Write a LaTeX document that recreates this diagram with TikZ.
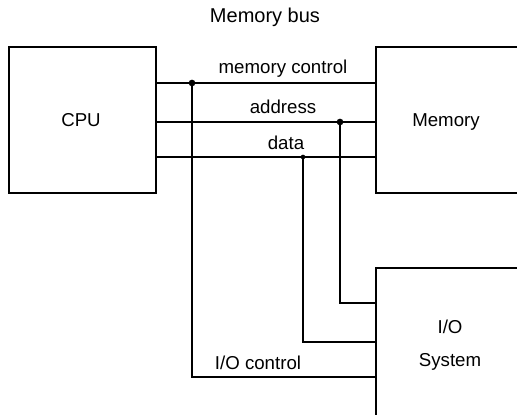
\documentclass[tikz,border=0pt]{standalone}
\usepackage{fontspec}
\setmainfont{Liberation Sans}
\usetikzlibrary{positioning}

\tikzset{
  unitbox/.style={draw, line width=1.1pt, minimum width=144*0.75pt, minimum height=146*0.75pt, inner sep=0pt},
  busline/.style={line width=1.1pt},
  tap/.style={circle, fill, inner sep=0pt, minimum size=5pt},
  lbl/.style={font=\fontsize{14}{16}\selectfont, inner sep=0pt}
}

\begin{document}
\begin{tikzpicture}[x=0.75pt, y=0.75pt]
    \useasboundingbox (0,0) rectangle (517,414);
    \clip (0,0) rectangle (517,414);

    % the three units
    \node[unitbox, minimum width=147*0.75pt] (cpu) at (82.5,294) {};
    \node[unitbox] (mem) at (448,294) {};
    \node[unitbox, minimum height=166*0.75pt] (io) at (448,63) {};

\node[lbl] (cpulbl) at (81,294) {CPU};
\node[lbl] (memlbl) at (446,292) {Memory};
\node[lbl] (iolbl) at (450,87) {I/O};
\node[lbl] (syslbl) at (450,52) {System};
\node[lbl, font=\fontsize{15}{17}\selectfont] (buslbl) at (265,397) {Memory bus};

    % bus lines
    \coordinate (mc) at (192,331);
    \coordinate (ad) at (340,292);
    \coordinate (da) at (303,257);
    \draw[busline] (cpu.east |- mc) -- (mem.west |- mc);
    \draw[busline] (cpu.east |- ad) -- (mem.west |- ad);
    \draw[busline] (cpu.east |- da) -- (mem.west |- da);

\node[lbl] (mclbl) at (283,345) {memory control};
\node[lbl] (adlbl) at (283,307) {address};
\node[lbl] (dalbl) at (286,271) {data};

    % taps down to the I/O system
    \coordinate (ioc) at (192,37);
    \coordinate (ioa) at (340,111);
    \coordinate (iod) at (303,72);
    \draw[busline] (mc) -- (ioc) -- (io.west |- ioc);
    \draw[busline] (ad) -- (ioa) -- (io.west |- ioa);
    \draw[busline] (da) -- (iod) -- (io.west |- iod);
    \node[tap] at (mc) {};
    \node[tap] at (ad) {};
    \node[tap, minimum size=3.5pt] at (da) {};

\node[lbl] (ioclbl) at (258,51) {I/O control};
  \end{tikzpicture}
\end{document}
